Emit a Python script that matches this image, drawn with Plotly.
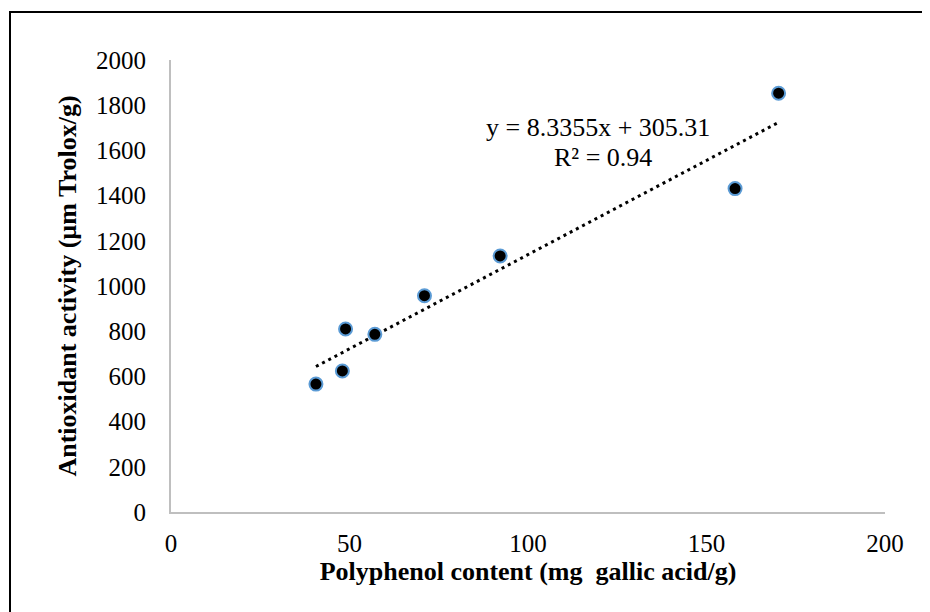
import numpy as np
import plotly.graph_objects as go

polyphenol = [40.6, 48.0, 48.9, 57.1, 71.0, 92.2, 158.0, 170.2]
antioxidant = [566, 624, 810, 786, 957, 1133, 1431, 1853]
slope = 8.3355
intercept = 305.31
r2_text = "0.94"
x_ticks = [0, 50, 100, 150, 200]
y_ticks = [0, 200, 400, 600, 800, 1000, 1200, 1400, 1600, 1800, 2000]

W, H = 930, 612
OFF = 8  # page body margin offset
ml, mr, mt, mb = 171 - OFF, 45 + OFF, 60 - OFF, 100 + OFF
pw, ph = W - ml - mr, H - mt - mb


def px(x):
    return (x - OFF - ml) / pw


def py(y):
    return 1 - (y - OFF - mt) / ph


tx = np.array([min(polyphenol), max(polyphenol)])
ty = slope * tx + intercept

font = "Liberation Serif, Times New Roman, serif"

fig = go.Figure()
fig.add_trace(go.Scatter(x=tx, y=ty, mode="lines",
                         line=dict(color="black", width=3, dash="3px,4px"),
                         hoverinfo="skip", showlegend=False))
fig.add_trace(go.Scatter(x=polyphenol, y=antioxidant, mode="markers",
                         marker=dict(color="black", size=13,
                                     line=dict(color="#5B9BD5", width=2)),
                         showlegend=False))

fig.add_annotation(x=px(598), y=py(111), xref="paper", yref="paper",
                   text=f"y = {slope}x + {intercept}", showarrow=False,
                   font=dict(family=font, size=26, color="black"))
fig.add_annotation(x=px(603), y=py(141), xref="paper", yref="paper",
                   text=f"R² = {r2_text}", showarrow=False,
                   font=dict(family=font, size=26, color="black"))

# outer frame
fig.add_shape(type="rect", xref="paper", yref="paper",
              x0=px(10), x1=px(960), y0=py(650), y1=py(12),
              line=dict(color="black", width=2), layer="below")

fig.update_layout(
    width=W, height=H,
    margin=dict(l=ml, r=mr, t=mt, b=mb),
    paper_bgcolor="white", plot_bgcolor="white",
    font=dict(family=font, size=25, color="black"),
    xaxis=dict(range=[0, 200], tickvals=x_ticks, showgrid=False, zeroline=False,
               showline=True, linecolor="#BFBFBF", linewidth=2, ticks="outside",
               ticklen=8, tickcolor="rgba(0,0,0,0)",
               title=dict(text="<b>Polyphenol content (mg  gallic acid/g)</b>",
                          font=dict(size=26), standoff=6)),
    yaxis=dict(range=[0, 2000], tickvals=y_ticks, showgrid=False, zeroline=False,
               showline=True, linecolor="#BFBFBF", linewidth=2, ticks="outside",
               ticklen=18, tickcolor="rgba(0,0,0,0)",
               title=dict(text="<b>Antioxidant activity (µm Trolox/g)</b>",
                          font=dict(size=26), standoff=12)),
)

fig.write_html("out.html")
